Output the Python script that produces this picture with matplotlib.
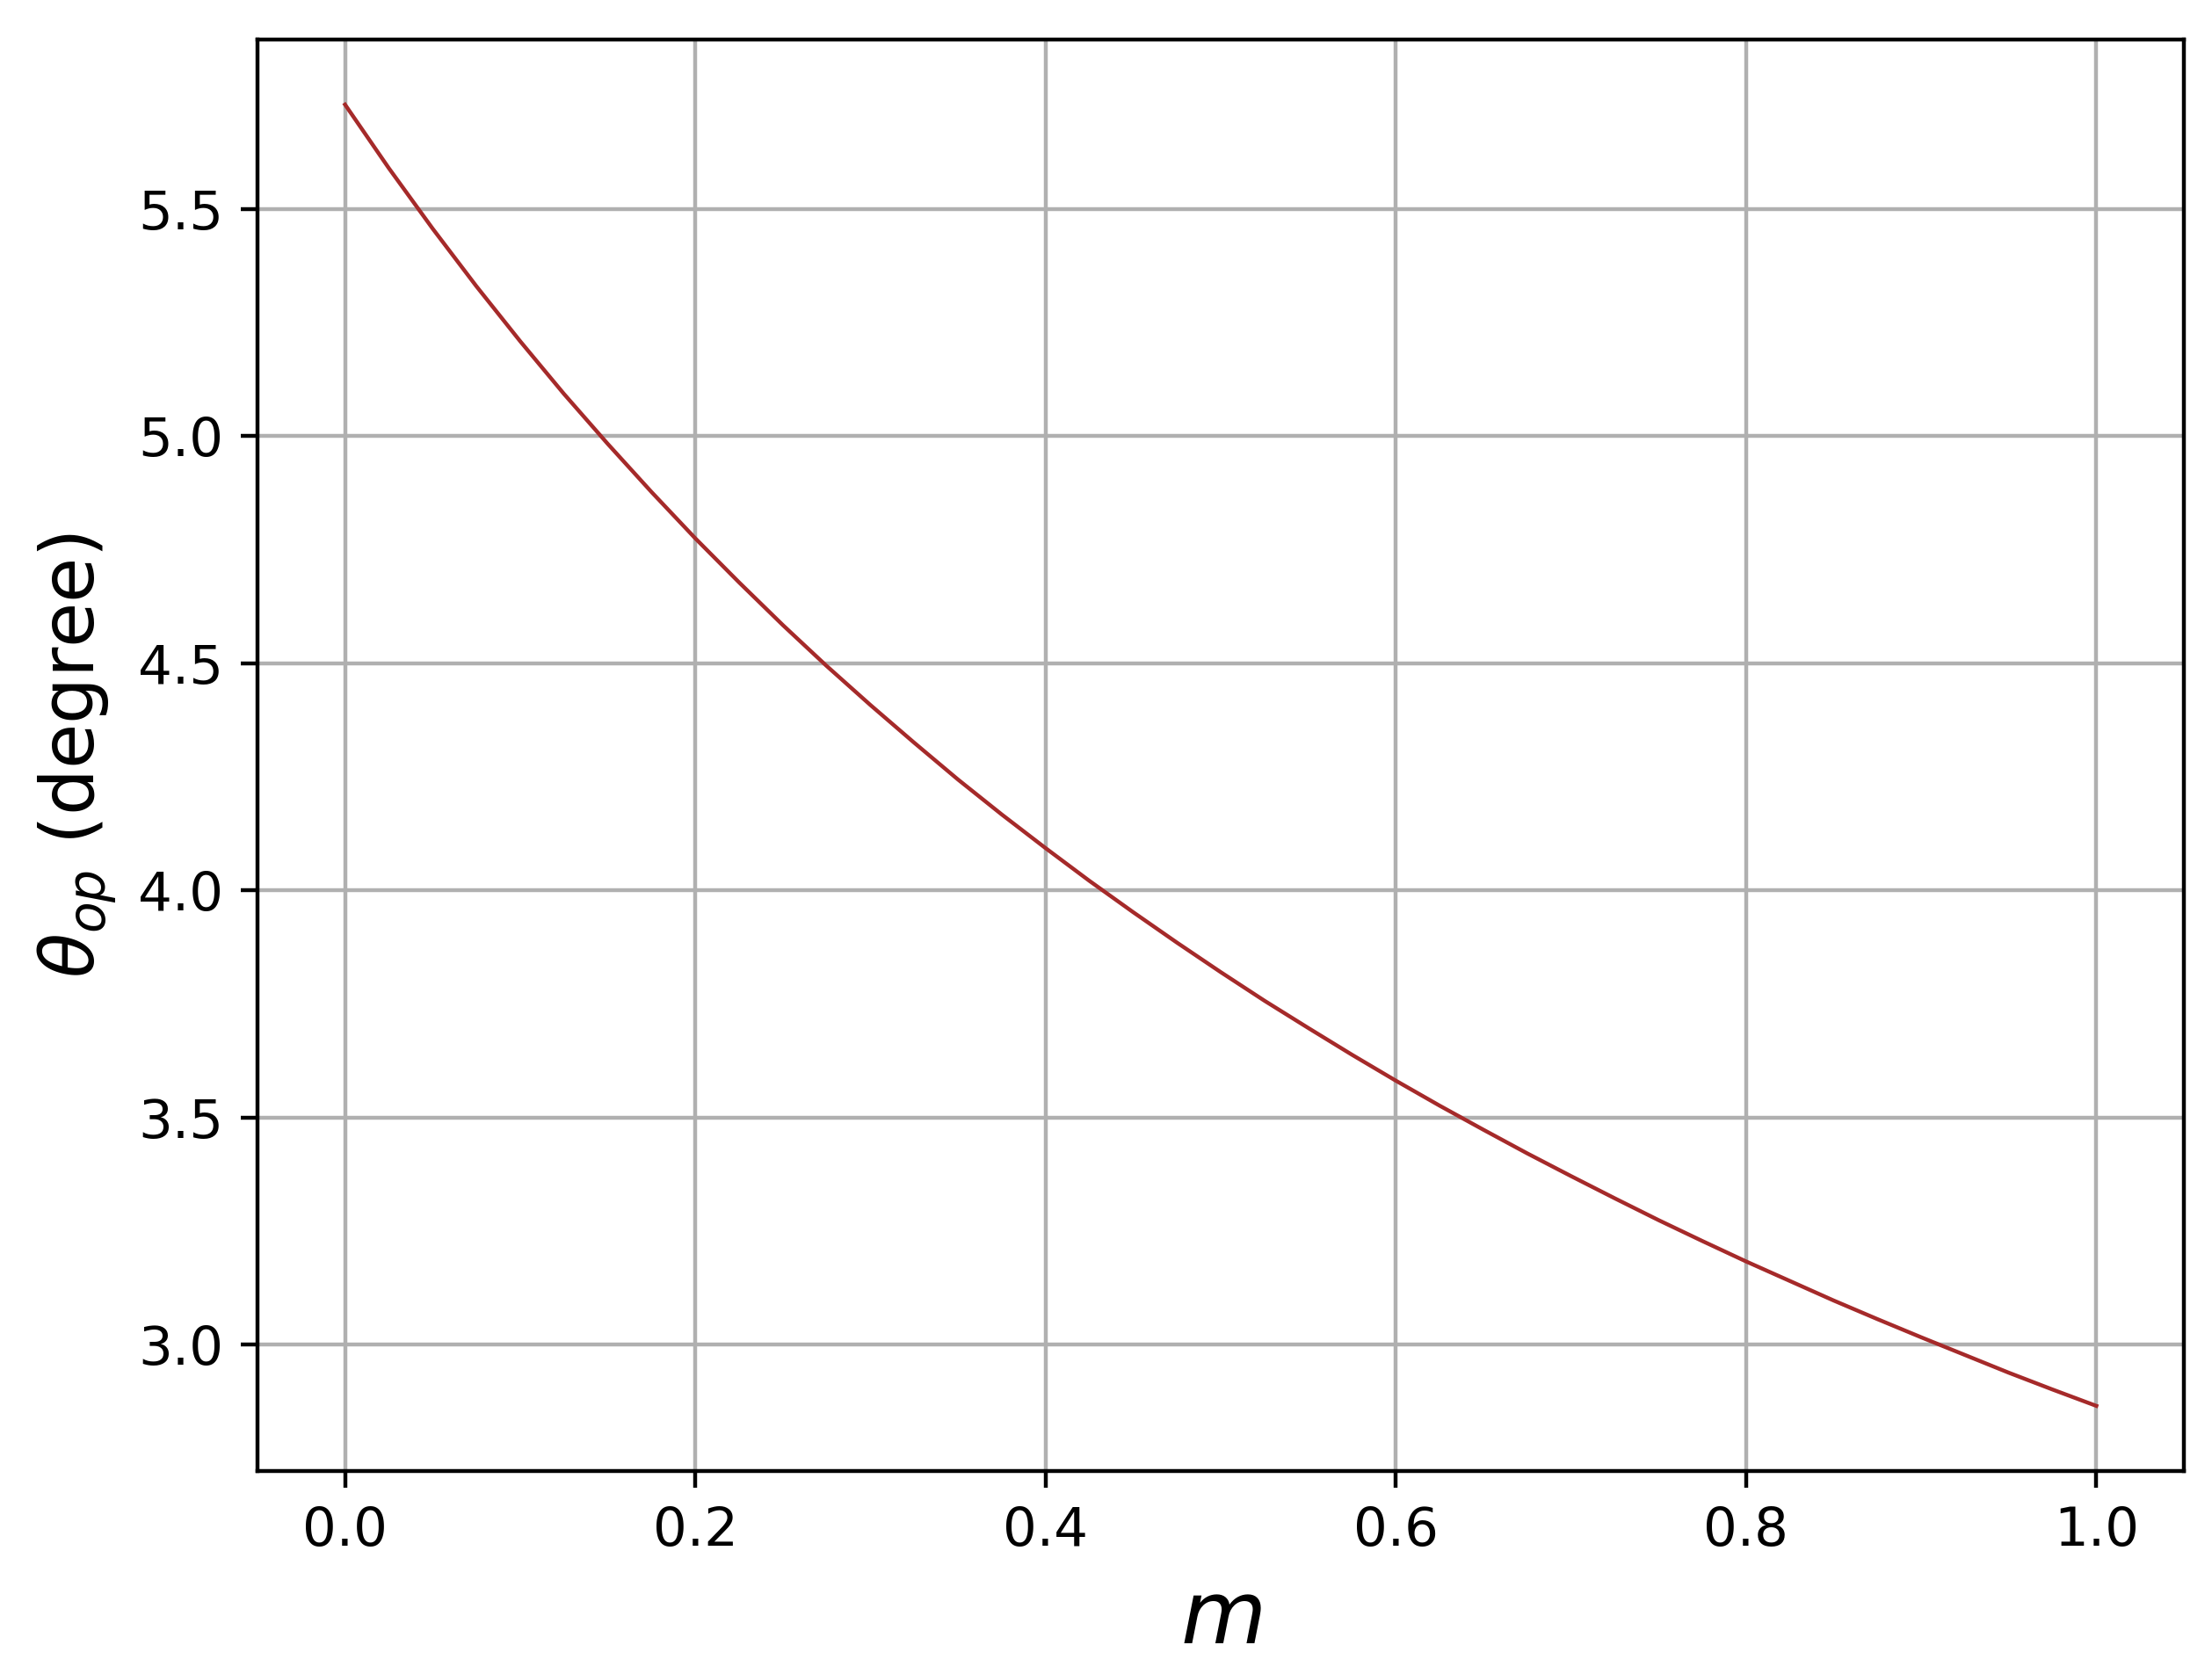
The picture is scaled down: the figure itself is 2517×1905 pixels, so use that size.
import numpy as np
import matplotlib.pyplot as plt

# values
m_vals = [0.000, 0.025, 0.050, 0.075, 0.100, 0.125, 0.150, 0.175, 0.200, 0.225,
          0.250, 0.275, 0.300, 0.325, 0.350, 0.375, 0.400, 0.425, 0.450, 0.475,
          0.500, 0.525, 0.550, 0.575, 0.600, 0.625, 0.650, 0.675, 0.700, 0.725,
          0.750, 0.775, 0.800, 0.825, 0.850, 0.875, 0.900, 0.925, 0.950, 0.975,
          1.000]
theta_op = [5.730, 5.590, 5.457, 5.330, 5.209, 5.093, 4.983, 4.877, 4.775, 4.678,
            4.584, 4.494, 4.408, 4.325, 4.244, 4.167, 4.093, 4.021, 3.952, 3.885,
            3.820, 3.757, 3.697, 3.638, 3.581, 3.526, 3.473, 3.421, 3.371, 3.322,
            3.274, 3.228, 3.183, 3.140, 3.097, 3.056, 3.016, 2.977, 2.938, 2.901,
            2.865]

fig = plt.figure(figsize=(6.2925, 4.7625), dpi=400)
ax = fig.add_axes([0.1164, 0.1213, 0.8709, 0.8551])

ax.plot(m_vals, theta_op, color='brown', linewidth=0.8)
ax.set_xlabel(r'$m$', fontsize=18)
ax.set_ylabel(r'$\theta_{op}$ (degree)', fontsize=15)
ax.tick_params(labelsize=11)
ax.grid(True)

fig.savefig('out.png', dpi=400)
